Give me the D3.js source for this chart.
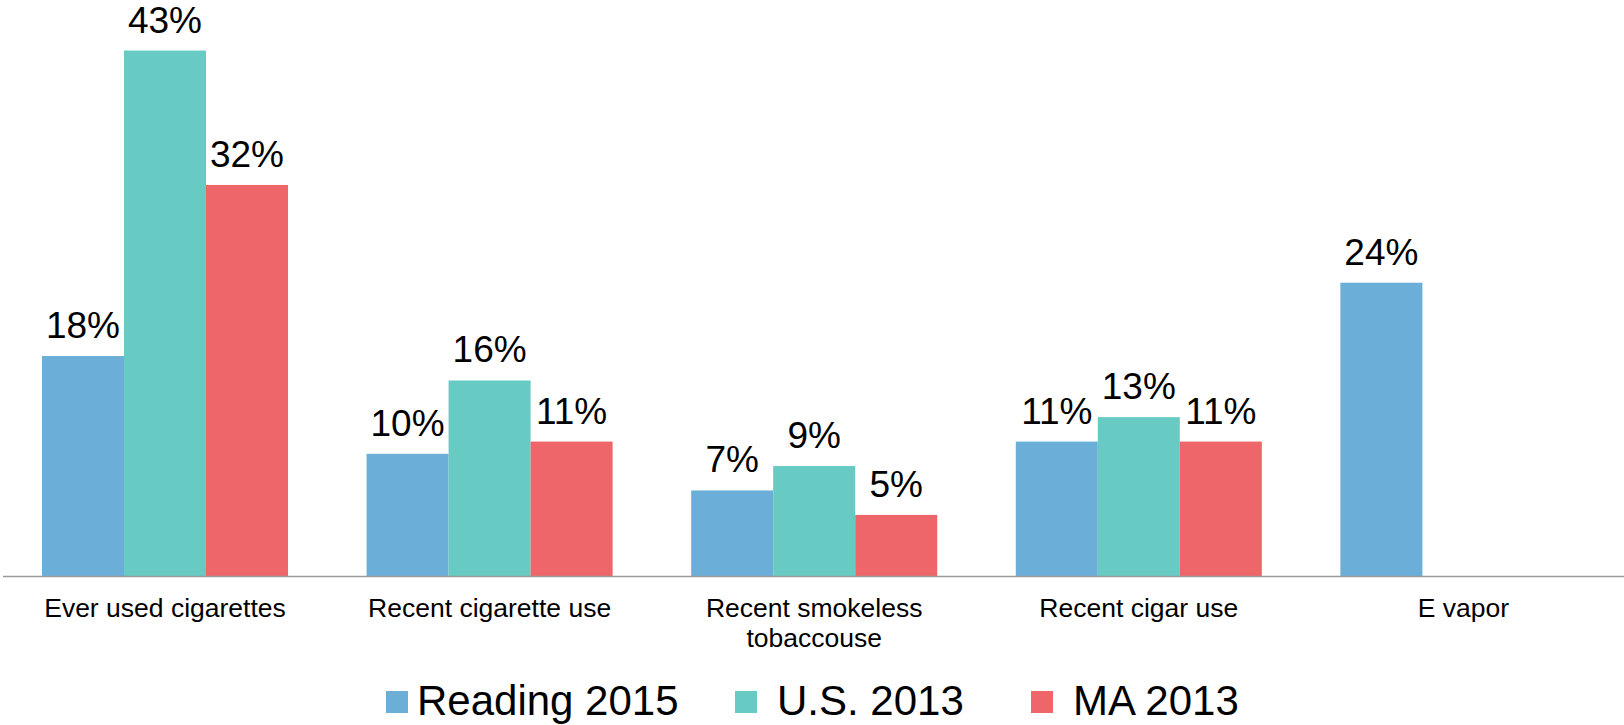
<!DOCTYPE html>
<html>
<head>
<meta charset="utf-8">
<script src="https://cdn.jsdelivr.net/npm/d3@7"></script>
<style>
  body { margin: 0; background: #fff; }
  svg { display: block; font-family: "Liberation Sans", Arial, sans-serif; }
</style>
</head>
<body>
<div id="chart"></div>
<script>
// Data
var categories = ["Ever used cigarettes", "Recent cigarette use", "Recent smokeless\ntobaccouse", "Recent cigar use", "E vapor"]
var seriesNames = ["Reading 2015", "U.S. 2013", "MA 2013"]
var reading2015 = [18, 10, 7, 11, 24]
var us2013 = [43, 16, 9, 13, null]
var ma2013 = [32, 11, 5, 11, null]

var seriesValues = [reading2015, us2013, ma2013]
var color = ["#6baed8", "#67cbc4", "#ee6669"]

// Chart dimensions
var width = 1624
var height = 725
var baseline = 576

var svg = d3.select('#chart')
            .append('svg')
            .attr('width', width)
            .attr('height', height)

// Scales: one band per category, groups of 3 bars inside
var xScale = d3.scaleBand()
                .domain(categories)
                .range([2.7, 1625.7])
                .paddingInner(0.242)
                .paddingOuter(0.121)

var xSub = d3.scaleBand()
                .domain(seriesNames)
                .range([0, xScale.bandwidth()])

var yScale = d3.scaleLinear()
                .domain([0, 45])
                .range([baseline, baseline - 45 * 12.22])

// Bars + value labels
seriesNames.forEach(function (name, si) {
    var rows = categories.map(function (c, i) { return { cat: c, value: seriesValues[si][i] } })
                         .filter(function (d) { return d.value != null })

    svg.append('g')
        .selectAll('rect')
        .data(rows)
        .enter()
        .append('rect')
        .attr('x', function (d) { return xScale(d.cat) + xSub(name) })
        .attr('y', function (d) { return yScale(d.value) })
        .attr('width', xSub.bandwidth())
        .attr('height', function (d) { return baseline - yScale(d.value) })
        .attr('fill', color[si])

    svg.append('g')
        .selectAll('text')
        .data(rows)
        .enter()
        .append('text')
        .attr('x', function (d) { return xScale(d.cat) + xSub(name) + xSub.bandwidth() / 2 })
        .attr('y', function (d) { return yScale(d.value) - 18 })
        .attr('text-anchor', 'middle')
        .attr('font-size', 37)
        .attr('fill', '#000')
        .text(function (d) { return d.value + '%' })
})

// Axis line
svg.append('line')
    .attr('x1', 3)
    .attr('x2', width)
    .attr('y1', baseline + 0.5)
    .attr('y2', baseline + 0.5)
    .attr('stroke', '#9a9a9a')
    .attr('stroke-width', 1.3)

// Category labels
var catLabels = svg.append('g')
    .selectAll('text')
    .data(categories)
    .enter()
    .append('text')
    .attr('text-anchor', 'middle')
    .attr('font-size', 26.5)
    .attr('fill', '#000')

catLabels.each(function (c) {
    var lines = c.split('\n')
    var cx = xScale(c) + xScale.bandwidth() / 2
    d3.select(this).selectAll('tspan')
        .data(lines)
        .enter()
        .append('tspan')
        .attr('x', cx)
        .attr('y', function (d, i) { return 617 + i * 30 })
        .text(function (d) { return d })
})

// Legend
var legendSquareX = [386, 735, 1031]
var legendTextX = [417, 777, 1073]
var legend = svg.append('g').attr('class', 'legend')
seriesNames.forEach(function (name, i) {
    legend.append('rect')
        .attr('x', legendSquareX[i])
        .attr('y', 691)
        .attr('width', 22)
        .attr('height', 22)
        .attr('fill', color[i])
    legend.append('text')
        .attr('x', legendTextX[i])
        .attr('y', 715)
        .attr('font-size', 42)
        .attr('fill', '#000')
        .text(name)
})
</script>
</body>
</html>
